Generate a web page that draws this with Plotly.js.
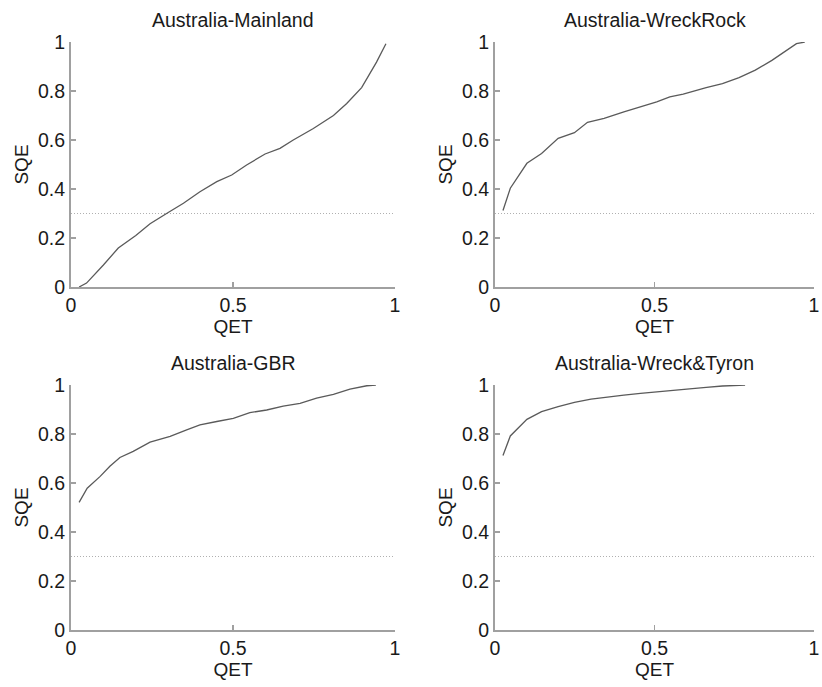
<!DOCTYPE html>
<html>
<head>
<meta charset="utf-8">
<script src="https://cdn.plot.ly/plotly-3.0.1.min.js"></script>
<style>
html,body{margin:0;padding:0;background:#fff;}
#chart{width:822px;height:687px;}
</style>
</head>
<body>
<div id="chart"></div>
<script>
// ---- Data ----
const panelTitles = ["Australia-Mainland", "Australia-WreckRock", "Australia-GBR", "Australia-Wreck&Tyron"];

const mainlandQET = [0.025,0.048,0.10,0.146,0.20,0.244,0.30,0.347,0.398,0.45,0.496,0.542,0.599,0.645,0.686,0.748,0.81,0.851,0.897,0.943,0.972];
const mainlandSQE = [0.0,0.016,0.09,0.159,0.21,0.258,0.304,0.342,0.389,0.43,0.457,0.498,0.543,0.566,0.60,0.647,0.70,0.749,0.814,0.918,0.993];

const wreckRockQET = [0.025,0.048,0.10,0.146,0.198,0.249,0.29,0.342,0.404,0.456,0.507,0.548,0.59,0.662,0.713,0.765,0.816,0.868,0.909,0.945,0.971];
const wreckRockSQE = [0.312,0.403,0.505,0.545,0.607,0.63,0.672,0.688,0.715,0.735,0.756,0.776,0.787,0.814,0.83,0.855,0.885,0.925,0.96,0.993,1.0];

const gbrQET = [0.025,0.05,0.09,0.12,0.151,0.192,0.244,0.306,0.357,0.398,0.45,0.501,0.552,0.604,0.655,0.707,0.758,0.81,0.861,0.913,0.941];
const gbrSQE = [0.521,0.579,0.627,0.668,0.704,0.729,0.767,0.79,0.817,0.837,0.851,0.864,0.887,0.898,0.914,0.925,0.946,0.962,0.983,0.997,1.0];

const wreckTyronQET = [0.025,0.048,0.10,0.146,0.198,0.249,0.301,0.353,0.404,0.456,0.507,0.559,0.61,0.662,0.713,0.784];
const wreckTyronSQE = [0.712,0.792,0.86,0.891,0.912,0.929,0.942,0.952,0.959,0.966,0.973,0.98,0.984,0.99,0.996,1.0];

const thresholdQET = [0, 1];
const thresholdSQE = [0.3, 0.3];

const xTickVals = [0, 0.5, 1];
const xTickText = ["0", "0.5", "1"];
const yTickVals = [0, 0.2, 0.4, 0.6, 0.8, 1];
const yTickText = ["0", "0.2", "0.4", "0.6", "0.8", "1"];

// ---- Build figure ----
const series = [
  [mainlandQET, mainlandSQE],
  [wreckRockQET, wreckRockSQE],
  [gbrQET, gbrSQE],
  [wreckTyronQET, wreckTyronSQE]
];

const W = 822, H = 687;
// plot boxes in pixels: [left, right, top, bottom]
const boxes = [
  [71, 395, 42, 287],
  [495, 814, 42, 287],
  [71, 395, 385, 630],
  [495, 814, 385, 630]
];

const FONT = "'Liberation Sans', Arial, sans-serif";
const TXT = "#1a1a1a";
const traces = [];
const layout = {
  width: W, height: H,
  margin: {l:0, r:0, t:0, b:0},
  paper_bgcolor: "#fff", plot_bgcolor: "#fff",
  showlegend: false,
  font: {family: FONT, size: 19, color: TXT},
  annotations: []
};

series.forEach((s, i) => {
  const n = i + 1;
  const xa = n === 1 ? "x" : "x" + n;
  const ya = n === 1 ? "y" : "y" + n;
  const xk = n === 1 ? "xaxis" : "xaxis" + n;
  const yk = n === 1 ? "yaxis" : "yaxis" + n;
  const b = boxes[i];
  traces.push({
    x: thresholdQET, y: thresholdSQE, xaxis: xa, yaxis: ya,
    mode: "lines", line: {color: "#b0b0b0", width: 1.2, dash: "1px,2px"}, hoverinfo: "skip"
  });
  traces.push({
    x: s[0], y: s[1], xaxis: xa, yaxis: ya,
    mode: "lines", line: {color: "#5a5a5a", width: 1.3}
  });
  layout[xk] = {
    domain: [b[0]/W, b[1]/W], anchor: ya, range: [0, 1],
    showgrid: false, zeroline: false, showline: true, linecolor: "#a0a0a0", linewidth: 2,
    ticks: "inside", ticklen: 5, tickcolor: "#a0a0a0", tickwidth: 1.5,
    ticklabeloverflow: "allow",
    tickvals: xTickVals, ticktext: xTickText, tickfont: {size: 19.5, family: FONT, color: TXT},
    title: {text: "QET", font: {size: 19, family: FONT, color: TXT}, standoff: 2}
  };
  layout[yk] = {
    domain: [1 - b[3]/H, 1 - b[2]/H], anchor: xa, range: [0, 1],
    showgrid: false, zeroline: false, showline: true, linecolor: "#a0a0a0", linewidth: 2,
    ticks: "inside", ticklen: 5, tickcolor: "#a0a0a0", tickwidth: 1.5,
    ticklabeloverflow: "allow",
    tickvals: yTickVals, ticktext: yTickText, tickfont: {size: 19.5, family: FONT, color: TXT},
    title: {text: "SQE", font: {size: 19, family: FONT, color: TXT}, standoff: 4}
  };
  layout.annotations.push({
    text: panelTitles[i], xref: "paper", yref: "paper",
    x: (b[0] + b[1]) / 2 / W, y: 1 - (b[2] - 22) / H,
    xanchor: "center", yanchor: "middle", showarrow: false,
    font: {size: 19.5, family: FONT, color: TXT}
  });
});

Plotly.newPlot("chart", traces, layout, {displayModeBar: false, staticPlot: true});
</script>
</body>
</html>
